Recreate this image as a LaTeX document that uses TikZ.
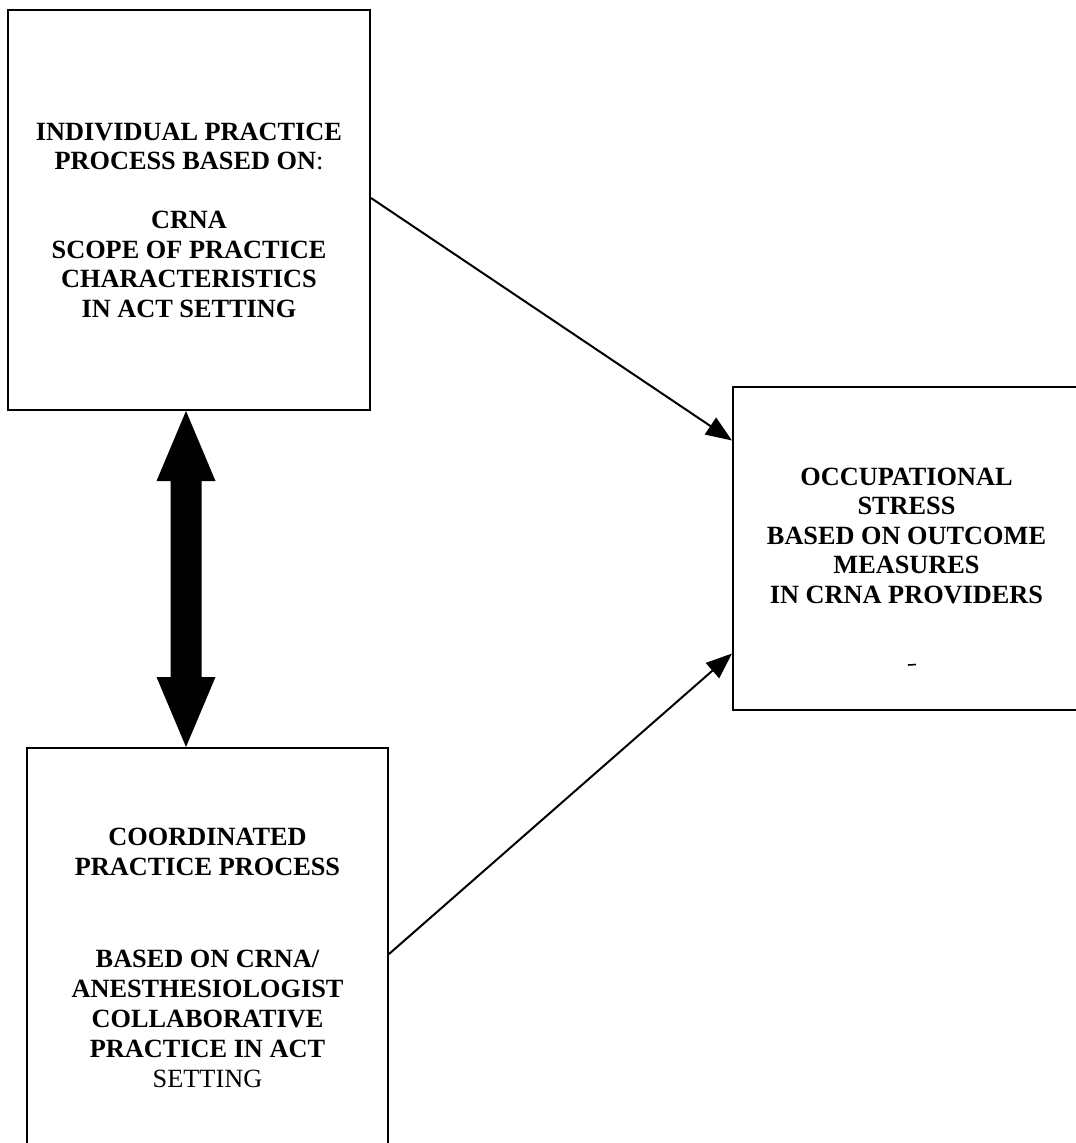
\documentclass[tikz,border=0pt]{standalone}
\usepackage{fontspec}
\setmainfont{Liberation Serif}
\usetikzlibrary{arrows.meta,calc}
\begin{document}
\begin{tikzpicture}[x=1pt,y=-1pt,
  box/.style={draw, line width=2pt, rectangle, inner sep=0pt},
  boxtxt/.style={align=center, inner sep=0pt, anchor=north,
    font=\fontsize{26.3}{29.5}\selectfont\bfseries},
  link/.style={line width=2pt, -{Triangle[length=26pt,width=20pt]}}]
\useasboundingbox (0,0) rectangle (1076,1143);
\fill[white] (0,0) rectangle (1076,1143);

% the three boxes
\node[box, minimum width=362pt, minimum height=400pt] (ind) at (189,210) {};
\node[box, minimum width=361pt, minimum height=412pt] (coord) at (207.5,954) {};
\node[box, minimum width=347pt, minimum height=323pt] (occ) at (906.5,548.5) {};

% box texts
\node[boxtxt] (indtxt) at (189,122.6)
  {INDIVIDUAL PRACTICE\\PROCESS BASED ON{\mdseries:}\\[29.5pt]CRNA\\SCOPE OF PRACTICE\\CHARACTERISTICS\\IN ACT SETTING};
\node[boxtxt, font=\fontsize{26.3}{30}\selectfont\bfseries] (coordtxt) at (207.5,827.6)
  {COORDINATED\\PRACTICE PROCESS\\[62pt]BASED ON CRNA/\\ANESTHESIOLOGIST\\COLLABORATIVE\\PRACTICE IN ACT\\{\mdseries SETTING}};
\node[boxtxt] (occtxt) at (906.5,467.6)
  {OCCUPATIONAL\\STRESS\\BASED ON OUTCOME\\MEASURES\\IN CRNA PROVIDERS};
\draw[line width=1.6pt] (908,665) -- (916,664.5);

% heavy two-headed arrow between the left boxes
\coordinate (ax) at (186,0);
\coordinate (dt) at (ind.south -| ax);
\coordinate (db) at (coord.north -| ax);
\fill (dt) -- ($(dt)+(29.5,70)$) -- ($(dt)+(15.5,70)$) -- ($(db)+(15.5,-70)$)
  -- ($(db)+(29.5,-70)$) -- (db) -- ($(db)+(-29.5,-70)$) -- ($(db)+(-15.5,-70)$)
  -- ($(dt)+(-15.5,70)$) -- ($(dt)+(-29.5,70)$) -- cycle;

% links into the outcome box
\draw[link] ($(ind.east)+(0,-12)$) -- ($(occ.west)+(0,-108)$);
\draw[link] (coord.east) -- ($(occ.west)+(0,105)$);
\end{tikzpicture}
\end{document}
